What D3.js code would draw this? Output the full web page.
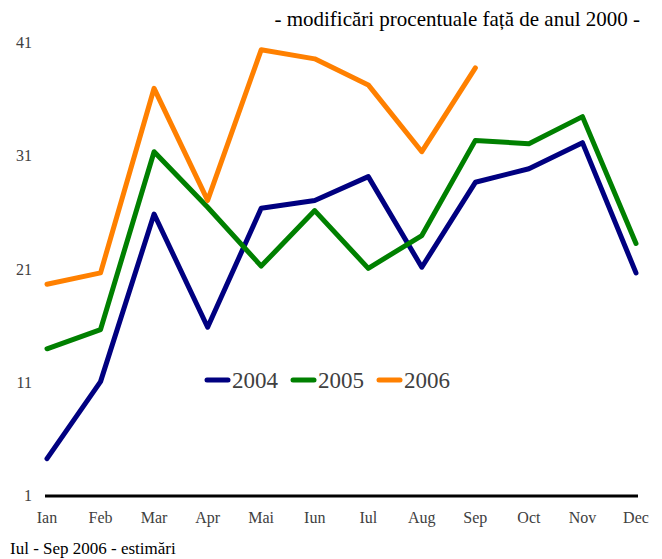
<!DOCTYPE html>
<html lang="ro">
<head>
<meta charset="UTF-8">
<title>Modificari procentuale</title>
<script src="https://d3js.org/d3.v7.min.js"></script>
<style>
    body { margin: 0; padding: 0; background: #fff; }
    text { font-family: "Liberation Serif", "DejaVu Serif", serif; }
    .tick-y, .tick-x { fill: #404040; }
    .series { fill: none; stroke-width: 5px; stroke-linejoin: round; stroke-linecap: round; }
</style>
</head>
<body>
<div id="chart"></div>
<script>
const months = ["Ian", "Feb", "Mar", "Apr", "Mai", "Iun", "Iul", "Aug", "Sep", "Oct", "Nov", "Dec"];
const yTicks = [1, 11, 21, 31, 41];

const v2004 = [4.3, 11.1, 25.9, 15.9, 26.4, 27.1, 29.2, 21.2, 28.7, 29.9, 32.2, 20.7];
const v2005 = [14.0, 15.7, 31.4, 26.5, 21.3, 26.2, 21.1, 24.0, 32.4, 32.1, 34.5, 23.3];
const v2006 = [19.7, 20.7, 37.0, 27.1, 40.4, 39.6, 37.3, 31.4, 38.8];

const series = [
    { name: "2004", color: "#000080", values: v2004 },
    { name: "2005", color: "#008000", values: v2005 },
    { name: "2006", color: "#ff8000", values: v2006 }
];

const width = 662, height = 559;
const serif = "'Liberation Serif', 'DejaVu Serif', serif";

const svg = d3.select("#chart").append("svg")
    .attr("width", width)
    .attr("height", height);

const x = d3.scalePoint().domain(months).range([47, 636]);
const y = d3.scaleLinear().domain([1, 41]).range([496, 43]);

// title
svg.append("text")
    .attr("x", 640).attr("y", 26)
    .attr("text-anchor", "end")
    .attr("font-family", serif)
    .style("font-size", "21px")
    .attr("fill", "#000")
    .text("- modificări procentuale față de anul 2000 -");

// y tick labels
svg.selectAll(".tick-y")
    .data(yTicks)
    .enter().append("text")
    .attr("class", "tick-y")
    .attr("x", 32)
    .attr("y", d => y(d) + 5)
    .attr("text-anchor", "end")
    .attr("font-family", serif)
    .style("font-size", "16px")
    .text(d => d);

// x tick labels
svg.selectAll(".tick-x")
    .data(months)
    .enter().append("text")
    .attr("class", "tick-x")
    .attr("x", d => x(d))
    .attr("y", 523)
    .attr("text-anchor", "middle")
    .attr("font-family", serif)
    .style("font-size", "16px")
    .text(d => d);

// baseline
svg.append("line")
    .attr("x1", x("Ian") - 2).attr("x2", x("Dec") + 2)
    .attr("y1", y(1)).attr("y2", y(1))
    .attr("stroke", "#000")
    .attr("stroke-width", 3);

const line = d3.line()
    .x((d, i) => x(months[i]))
    .y(d => y(d));

svg.selectAll(".series")
    .data(series)
    .enter().append("path")
    .attr("class", "series")
    .attr("stroke", d => d.color)
    .attr("d", d => line(d.values));

// legend
const legend = svg.append("g").attr("transform", "translate(207,380)");
const item = legend.selectAll("g")
    .data(series)
    .enter().append("g")
    .attr("transform", (d, i) => `translate(${i * 86},0)`);
item.append("line")
    .attr("x1", 0).attr("x2", 21)
    .attr("stroke", d => d.color)
    .attr("stroke-width", 5)
    .attr("stroke-linecap", "round");
item.append("text")
    .attr("x", 25).attr("y", 8)
    .attr("font-family", serif)
    .style("font-size", "23px")
    .attr("fill", "#404040")
    .text(d => d.name);

// footnote
svg.append("text")
    .attr("x", 10).attr("y", 554)
    .attr("font-family", serif)
    .style("font-size", "17px")
    .attr("fill", "#000")
    .text("Iul - Sep 2006 - estimări");
</script>
</body>
</html>
